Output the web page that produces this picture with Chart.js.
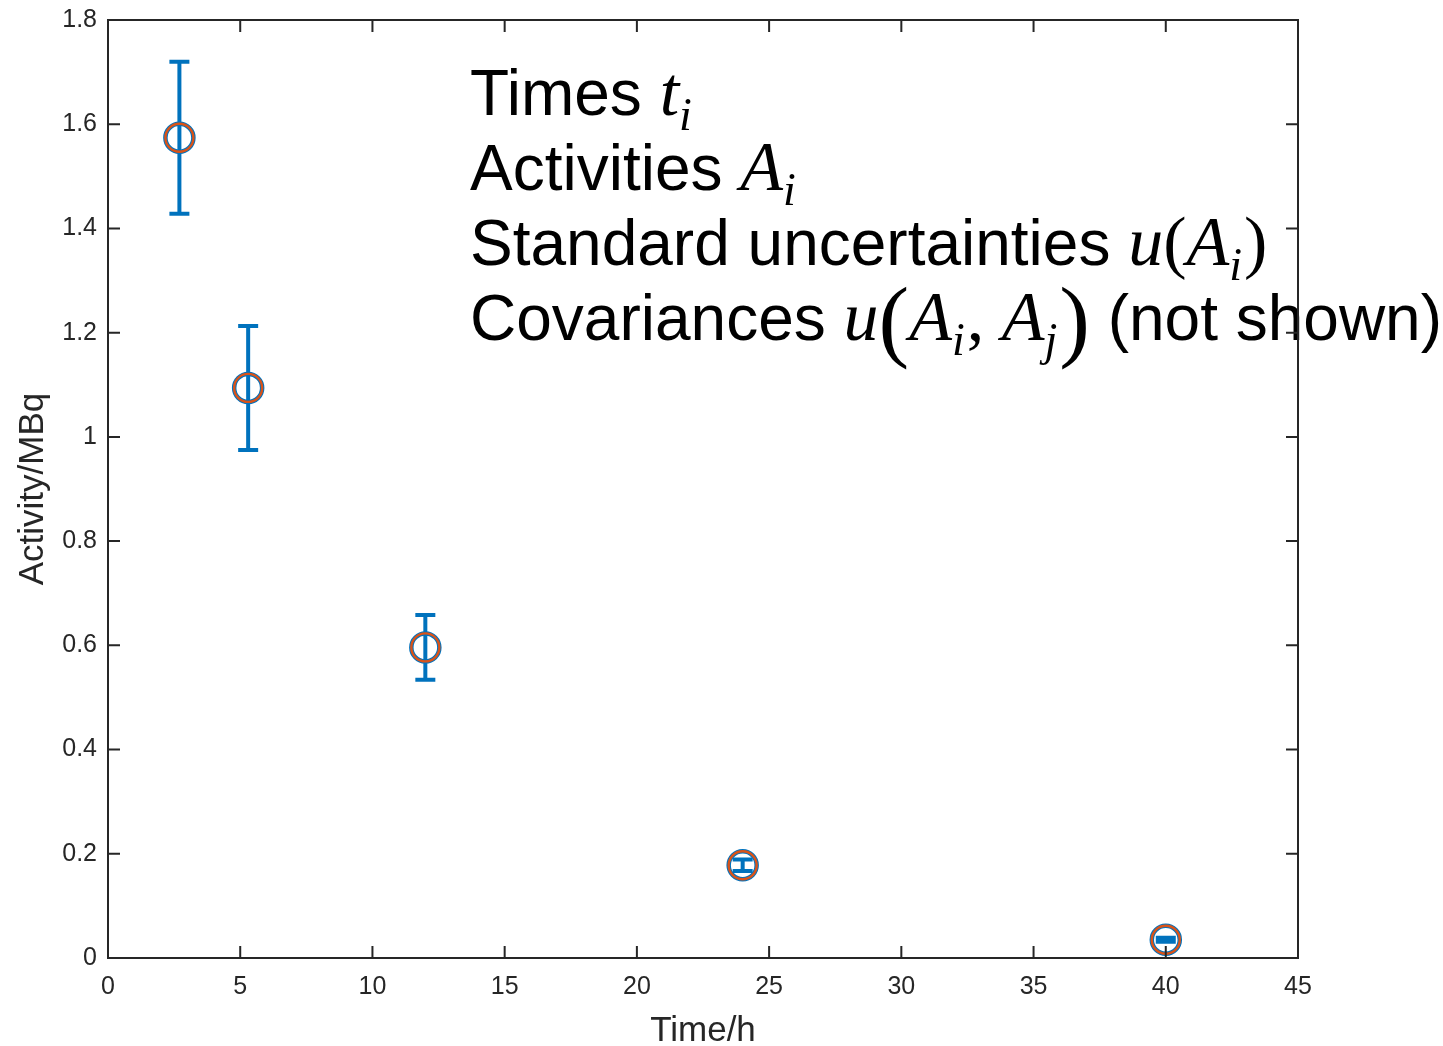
<!DOCTYPE html>
<html>
<head>
<meta charset="utf-8">
<script src="https://cdn.jsdelivr.net/npm/chart.js@4/dist/chart.umd.min.js"></script>
<style>
  html, body { margin: 0; padding: 0; background: #fff; }
  #wrap { width: 1443px; height: 1046px; }
</style>
</head>
<body>
<div id="wrap"><canvas id="chart" width="1443" height="1046"></canvas></div>
<script>
// measured data
const times = [2.7, 5.3, 12, 24, 40];
const activities = [1.574, 1.094, 0.596, 0.178, 0.035];
const uncertainties = [0.146, 0.119, 0.062, 0.011, 0.004];

const xTicks = [0, 5, 10, 15, 20, 25, 30, 35, 40, 45];
const yTicks = [0, 0.2, 0.4, 0.6, 0.8, 1, 1.2, 1.4, 1.6, 1.8];
const yTickLabels = ["0", "0.2", "0.4", "0.6", "0.8", "1", "1.2", "1.4", "1.6", "1.8"];

const AXIS_COLOR = "#262626";
const BLUE = "#0072BD";
const ORANGE = "#D95319";
const SANS = "'Liberation Sans', Arial, sans-serif";
const MATH = "'Liberation Serif', 'Times New Roman', serif";

const points = times.map((t, i) => ({ x: t, y: activities[i] }));

// error bars, drawn under the markers
const errorBars = {
  id: "errorBars",
  beforeDatasetsDraw(chart) {
    const { ctx, scales: { x, y } } = chart;
    ctx.save();
    ctx.strokeStyle = BLUE;
    ctx.lineWidth = 4;
    times.forEach((t, i) => {
      const px = x.getPixelForValue(t);
      const top = y.getPixelForValue(activities[i] + uncertainties[i]);
      const bot = y.getPixelForValue(activities[i] - uncertainties[i]);
      ctx.beginPath();
      ctx.moveTo(px, top);
      ctx.lineTo(px, bot);
      ctx.moveTo(px - 10, top);
      ctx.lineTo(px + 10, top);
      ctx.moveTo(px - 10, bot);
      ctx.lineTo(px + 10, bot);
      ctx.stroke();
    });
    ctx.restore();
  },
};

// matlab style box with inward ticks
const boxAxes = {
  id: "boxAxes",
  afterDraw(chart) {
    const { ctx, chartArea: a, scales: { x, y } } = chart;
    const len = 12;
    ctx.save();
    ctx.strokeStyle = AXIS_COLOR;
    ctx.lineWidth = 2;
    ctx.strokeRect(a.left, a.top, a.right - a.left, a.bottom - a.top);
    ctx.beginPath();
    xTicks.forEach((v) => {
      const px = x.getPixelForValue(v);
      ctx.moveTo(px, a.bottom);
      ctx.lineTo(px, a.bottom - len);
      ctx.moveTo(px, a.top);
      ctx.lineTo(px, a.top + len);
    });
    yTicks.forEach((v) => {
      const py = y.getPixelForValue(v);
      ctx.moveTo(a.left, py);
      ctx.lineTo(a.left + len, py);
      ctx.moveTo(a.right, py);
      ctx.lineTo(a.right - len, py);
    });
    ctx.stroke();
    ctx.restore();
  },
};

// the text block in the upper right
const noteText = {
  id: "noteText",
  afterDatasetsDraw(chart) {
    const ctx = chart.ctx;
    const size = 64;
    const x0 = 470;
    // t = text, m = math italic, r = math upright, p = big paren, s = subscript
    const lines = [
      [["t", "Times "], ["m", "t"], ["s", "i"]],
      [["t", "Activities "], ["m", "A"], ["s", "i"]],
      [["t", "Standard uncertainties "], ["m", "u"], ["r", "("], ["m", "A"], ["s", "i"], ["r", ")"]],
      [["t", "Covariances "], ["m", "u"], ["p", "("], ["m", "A"], ["s", "i"], ["r", ", "], ["m", "A"], ["s", "j"], ["p", ")"], ["t", " (not shown)"]],
    ];
    const baselines = [115, 190, 265, 340];
    ctx.save();
    ctx.fillStyle = "#000";
    ctx.textBaseline = "alphabetic";
    lines.forEach((parts, li) => {
      let cx = x0;
      const by = baselines[li];
      parts.forEach(([kind, str]) => {
        let dy = 0;
        if (kind === "t") ctx.font = `${size}px ${SANS}`;
        else if (kind === "m") ctx.font = `italic ${size + 6}px ${MATH}`;
        else if (kind === "r") ctx.font = `${size + 6}px ${MATH}`;
        else if (kind === "p") { ctx.font = `${size + 28}px ${MATH}`; dy = 10; }
        else { ctx.font = `italic ${size - 18}px ${MATH}`; dy = 15; }
        ctx.fillText(str, cx, by + dy);
        cx += ctx.measureText(str).width + (kind === "s" ? 2 : 0);
      });
    });
    ctx.restore();
  },
};

new Chart(document.getElementById("chart"), {
  type: "scatter",
  data: {
    datasets: [
      {
        data: points,
        pointStyle: "circle",
        pointRadius: 14,
        pointHoverRadius: 14,
        pointBorderWidth: 2.4,
        borderColor: ORANGE,
        backgroundColor: "rgba(0,0,0,0)",
      },
      {
        data: points,
        pointStyle: "circle",
        pointRadius: 14,
        pointHoverRadius: 14,
        pointBorderWidth: 4.5,
        borderColor: BLUE,
        backgroundColor: "rgba(0,0,0,0)",
      },
    ],
  },
  options: {
    responsive: false,
    animation: false,
    devicePixelRatio: 1,
    layout: { padding: { left: 0, top: 20, right: 145, bottom: 0 } },
    plugins: { legend: { display: false }, tooltip: { enabled: false } },
    scales: {
      x: {
        type: "linear",
        min: 0,
        max: 45,
        afterBuildTicks: (s) => { s.ticks = xTicks.map((v) => ({ value: v })); },
        afterFit: (s) => {
          s.height = 88;
          s.paddingLeft = 0;
          s.paddingRight = 0;
        },
        grid: { display: false, drawTicks: false },
        border: { display: false },
        ticks: {
          padding: 14,
          color: AXIS_COLOR,
          font: { family: SANS, size: 25 },
          maxRotation: 0,
          callback: (v) => String(v),
        },
        title: {
          display: true,
          text: "Time/h",
          color: AXIS_COLOR,
          font: { family: SANS, size: 35, lineHeight: 1 },
          padding: { top: 0, bottom: -3 },
        },
      },
      y: {
        type: "linear",
        min: 0,
        max: 1.8,
        afterBuildTicks: (s) => { s.ticks = yTicks.map((v) => ({ value: v })); },
        afterFit: (s) => {
          s.width = 108;
          s.paddingTop = 0;
          s.paddingBottom = 0;
        },
        grid: { display: false, drawTicks: false },
        border: { display: false },
        ticks: {
          padding: 11,
          color: AXIS_COLOR,
          font: { family: SANS, size: 25 },
          callback: (v, i) => yTickLabels[i],
        },
        title: {
          display: true,
          text: "Activity/MBq",
          color: AXIS_COLOR,
          font: { family: SANS, size: 35 },
          padding: { top: 12, bottom: 0 },
        },
      },
    },
  },
  plugins: [errorBars, boxAxes, noteText],
});
</script>
</body>
</html>
